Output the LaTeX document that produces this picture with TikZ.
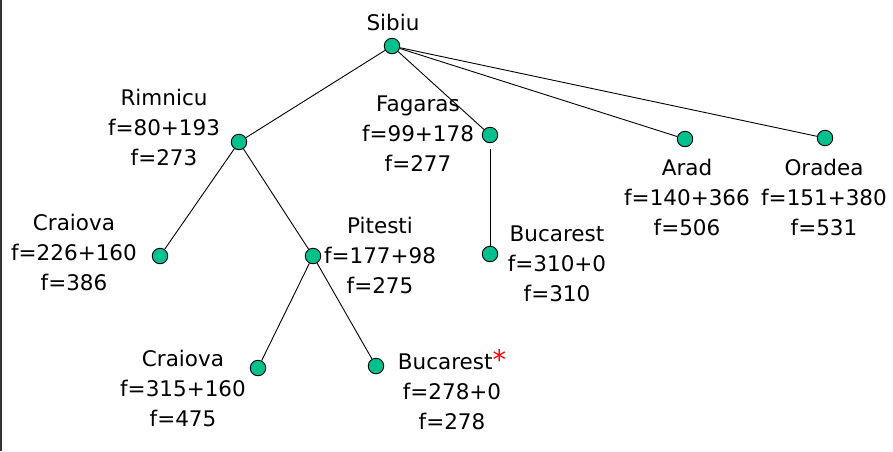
\documentclass[tikz,border=0pt]{standalone}
\usepackage{fontspec}
\setmainfont{DejaVu Sans}
\usepackage{xcolor}
\usetikzlibrary{positioning}

\definecolor{nodegreen}{RGB}{0,192,142}

\tikzset{
  city/.style={circle,draw=black,fill=nodegreen,minimum size=15.5pt,inner sep=0pt,line width=0.9pt},
  info/.style={align=center,font=\fontsize{21.5}{30}\selectfont,inner sep=0pt},
  edge/.style={draw=black,line width=0.9pt}
}

\begin{document}
\begin{tikzpicture}[x=1pt,y=-1pt]

  \useasboundingbox (0,0) rectangle (893,451);
  \draw[line width=2pt,black!80] (1,0) -- (1,451);

  % circles
  \node[city] (sib) at (392,46) {};
  \node[city] (rim) at (239,142) {};
  \node[city] (fag) at (490,135) {};
  \node[city] (ara) at (685,139) {};
  \node[city] (ora) at (825,138) {};
  \node[city] (cra) at (160,256) {};
  \node[city] (pit) at (313,256) {};
  \node[city] (buc) at (490,254) {};
  \node[city] (crb) at (258,368) {};
  \node[city] (bub) at (376,366) {};

  % labels
  \node[info] (sibl) at (393,22) {Sibiu};
  \node[info] (riml) at (164,127) {Rimnicu\\f=80+193\\f=273};
  \node[info] (fagl) at (418,134) {Fagaras\\f=99+178\\f=277};
  \node[info] (aral) at (687,197) {Arad\\f=140+366\\f=506};
  \node[info] (oral) at (824,197) {Oradea\\f=151+380\\f=531};
  \node[info] (cral) at (74,252) {Craiova\\f=226+160\\f=386};
  \node[info] (pitl) at (380,255) {Pitesti\\f=177+98\\f=275};
  \node[info] (bucl) at (557,264) {Bucarest\\f=310+0\\f=310};
  \node[info] (crbl) at (183,388) {Craiova\\f=315+160\\f=475};
  \node[info] (bubl) at (452,390) {Bucarest{\color{red}\fontsize{27}{30}\selectfont*}\\f=278+0\\f=278};

  % edges
  \draw[edge] (sib) -- (rim);
  \draw[edge] (sib) -- (fag);
  \draw[edge] (sib) -- (ara);
  \draw[edge] (sib) -- (ora);
  \draw[edge] (rim) -- (cra);
  \draw[edge] (rim) -- (pit);
  \draw[edge,shorten <=6pt] (fag) -- (buc);
  \draw[edge] (pit) -- (crb);
  \draw[edge] (pit) -- (bub);
\end{tikzpicture}
\end{document}
